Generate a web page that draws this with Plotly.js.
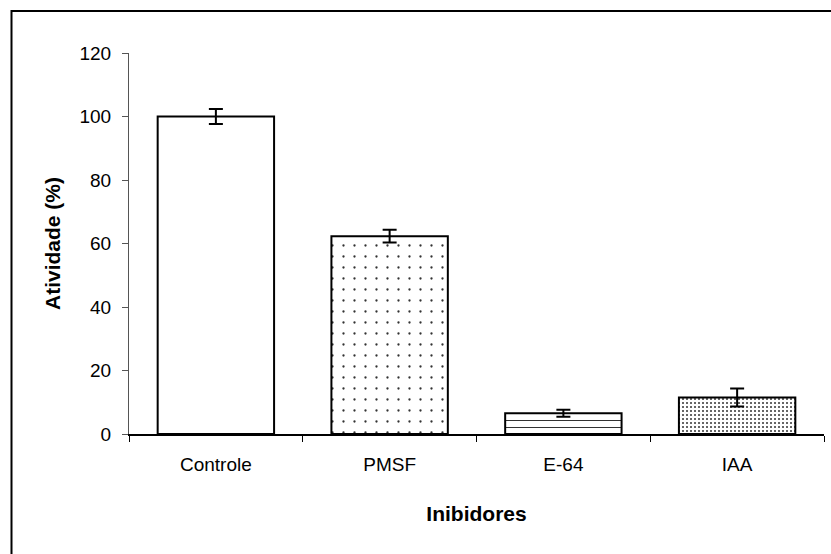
<!DOCTYPE html>
<html>
<head>
<meta charset="utf-8">
<script src="https://cdn.plot.ly/plotly-3.0.1.min.js"></script>
<style>
html,body{margin:0;padding:0;background:#fff;}
#chart{width:831px;height:554px;}
</style>
</head>
<body>
<div id="chart"></div>
<script>
const categories = ["Controle", "PMSF", "E-64", "IAA"];
const activity = [100, 62.3, 6.5, 11.5];
const errors = [2.4, 2.0, 1.1, 2.8];
const yTicks = [0, 20, 40, 60, 80, 100, 120];

const patternShapes = ["", ".", "-", "."];
const patternSizes = [8, 11, 7, 4];
const patternSolidity = [0.3, 0.035, 0.15, 0.2];

const trace = {
  type: "bar",
  x: categories,
  y: activity,
  width: 0.67,
  marker: {
    color: "#ffffff",
    line: {color: "#000000", width: 2},
    pattern: {
      shape: patternShapes,
      size: patternSizes,
      solidity: patternSolidity,
      fgcolor: "#333333",
      bgcolor: "#ffffff",
      fillmode: "replace"
    }
  },
  error_y: {type: "data", array: errors, visible: true, color: "#000000", thickness: 2, width: 7},
  hoverinfo: "skip"
};

const L = 129, R = 7, T = 53, B = 120, W = 831, H = 554;
const pw = W - L - R, ph = H - T - B;
const px2x = p => (p - L) / pw;
const py2y = p => (H - B - p) / ph;

const layout = {
  width: W, height: H,
  margin: {l: L, r: R, t: T, b: B, pad: 0},
  paper_bgcolor: "#ffffff",
  plot_bgcolor: "#ffffff",
  showlegend: false,
  font: {family: "Liberation Sans, Arial, sans-serif", size: 19, color: "#000"},
  xaxis: {
    type: "category",
    range: [-0.5, 3.5],
    showline: true, linecolor: "#000", linewidth: 1.5,
    ticks: "outside", tickson: "boundaries", ticklen: 6, tickcolor: "#000", tickwidth: 1,
    ticklabelstandoff: 13,
    showgrid: false, zeroline: false,
    tickfont: {size: 19},
    title: {text: "<b>Inibidores</b>", font: {size: 21}, standoff: 32}
  },
  yaxis: {
    range: [0, 120],
    tickvals: yTicks,
    showline: true, linecolor: "#555", linewidth: 1,
    ticks: "outside", ticklen: 6, tickcolor: "#555", tickwidth: 1,
    ticklabelstandoff: 7,
    showgrid: false, zeroline: false,
    tickfont: {size: 19},
    title: {text: "<b>Atividade (%)</b>", font: {size: 21}, standoff: 13}
  },
  shapes: [{
    type: "path", xref: "paper", yref: "paper",
    path: "M " + px2x(11.5) + "," + py2y(560) + " L " + px2x(11.5) + "," + py2y(11) + " L " + px2x(840) + "," + py2y(11),
    line: {color: "#000", width: 2}
  }]
};

Plotly.newPlot("chart", [trace], layout, {staticPlot: true, displayModeBar: false});
</script>
</body>
</html>
